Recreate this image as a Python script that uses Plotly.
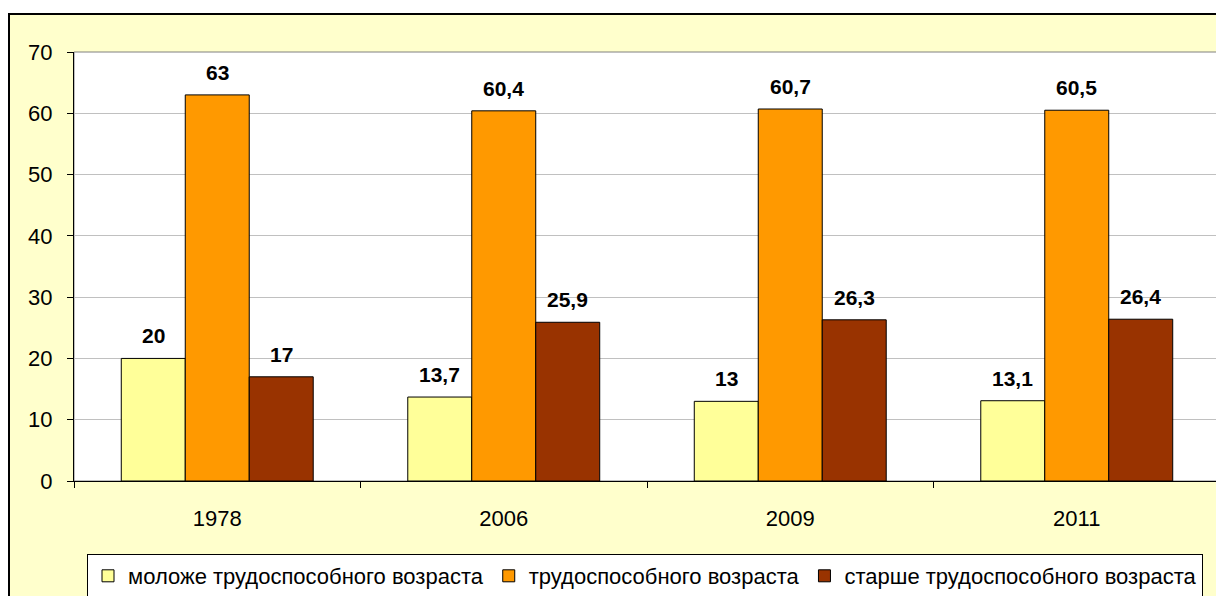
import plotly.graph_objects as go

years = ["1978", "2006", "2009", "2011"]
series_names = ["моложе трудоспособного возраста", "трудоспособного возраста", "старше трудоспособного возраста"]
young = [20, 13.7, 13, 13.1]
working = [63, 60.4, 60.7, 60.5]
older = [17, 25.9, 26.3, 26.4]
colors = ["#FFFF99", "#FF9900", "#993300"]

# page body has an 8px margin, so the figure is drawn from (8, 8) in the window
OFF = 8
W, H = 1224 - OFF, 596 - OFF
L, R, T, B = 74 - OFF, 4, 52 - OFF, 596 - 481
pw, ph = W - L - R, H - T - B

def px_x(p):
    return (p - OFF - L) / pw

def px_y(p):
    return (H - B - (p - OFF)) / ph

FONT = "Arial"
FS = 22

fig = go.Figure()
all_series = [young, working, older]
for name, vals, col in zip(series_names, all_series, colors):
    fig.add_trace(go.Bar(
        x=years, y=vals, name=name,
        marker=dict(color=col, line=dict(color="black", width=1)),
    ))

def fmt(v):
    return f"{v:g}".replace(".", ",")

bar_px = pw / len(years) * (1 - 0.33) / 3
for i, vals in enumerate(all_series):
    for k, v in enumerate(vals):
        fig.add_annotation(
            x=k, y=v, xref="x", yref="y", text="<b>" + fmt(v) + "</b>", showarrow=False,
            xshift=(i - 1) * bar_px, yshift=9, yanchor="bottom",
            font=dict(family=FONT, size=21, color="black"),
        )

shapes = [
    dict(type="rect", xref="paper", yref="paper", x0=0, x1=1, y0=0, y1=1,
         line=dict(color="#808080", width=1), layer="below"),
    dict(type="rect", xref="paper", yref="paper", x0=px_x(0), x1=px_x(1240), y0=px_y(13), y1=px_y(-5),
         line=dict(width=0), fillcolor="white", layer="above"),
    dict(type="rect", xref="paper", yref="paper", x0=px_x(9), x1=px_x(1240), y0=px_y(610), y1=px_y(14),
         line=dict(color="black", width=2), layer="above"),
]

fig.update_layout(
    width=W, height=H,
    margin=dict(l=L, r=R, t=T, b=B, autoexpand=False),
    paper_bgcolor="#FFFFCC",
    plot_bgcolor="white",
    barmode="group",
    bargap=0.33,
    bargroupgap=0,
    font=dict(family=FONT, size=FS, color="black"),
    showlegend=True,
    legend=dict(
        orientation="h", x=px_x(645), xanchor="center", y=px_y(554), yanchor="top",
        bgcolor="white", bordercolor="black", borderwidth=1,
        font=dict(family=FONT, size=FS, color="black"),
        itemwidth=30, tracegroupgap=0,
    ),
    shapes=shapes,
)
fig.update_xaxes(
    type="category", range=[-0.5, 3.5], showline=True, linecolor="black", linewidth=1,
    ticks="outside", tickson="boundaries", ticklen=6, tickcolor="black",
    ticklabelstandoff=18, showgrid=False, tickangle=0, automargin=False,
    tickfont=dict(family=FONT, size=FS, color="black"),
)
fig.update_yaxes(
    range=[0, 70], dtick=10, showline=True, linecolor="black", linewidth=1,
    ticks="outside", ticklen=6, tickcolor="black", automargin=False,
    ticklabelstandoff=10,
    showgrid=True, gridcolor="#C0C0C0", gridwidth=1, zeroline=False,
    tickfont=dict(family=FONT, size=FS, color="black"),
)

fig.write_html("out.html")
